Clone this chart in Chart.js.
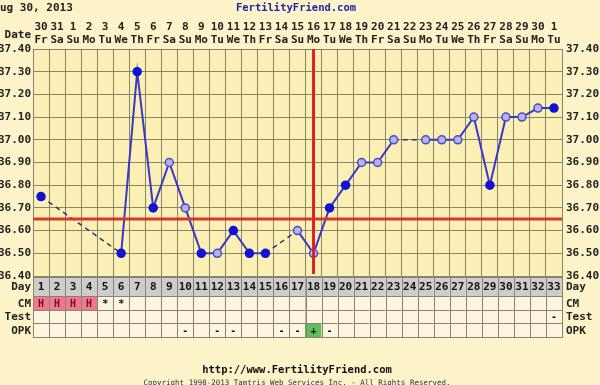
<!DOCTYPE html>
<html>
<head>
<meta charset="utf-8">
<script src="https://cdn.jsdelivr.net/npm/chart.js@4"></script>
<style>
  body { margin: 0; background: #fdf3c8; }
  #wrap { width: 600px; height: 385px; }
</style>
</head>
<body>
<div id="wrap"><canvas id="bbtChart" width="600" height="385"></canvas></div>
<script>
// cycle days and calendar labels
const cycleDays = ['1','2','3','4','5','6','7','8','9','10','11','12','13','14','15','16','17','18','19','20','21','22','23','24','25','26','27','28','29','30','31','32','33'];
const dates = ['30','31','1','2','3','4','5','6','7','8','9','10','11','12','13','14','15','16','17','18','19','20','21','22','23','24','25','26','27','28','29','30','1'];
const weekdays = ['Fr','Sa','Su','Mo','Tu','We','Th','Fr','Sa','Su','Mo','Tu','We','Th','Fr','Sa','Su','Mo','Tu','We','Th','Fr','Sa','Su','Mo','Tu','We','Th','Fr','Sa','Su','Mo','Tu'];

// temperatures (null = no reading)
const temps = [36.75, null, null, null, null, 36.50, 37.30, 36.70, 36.90, 36.70, 36.50, 36.50, 36.60, 36.50, 36.50, null, 36.60, 36.50, 36.70, 36.80, 36.90, 36.90, 37.00, null, 37.00, 37.00, 37.00, 37.10, 36.80, 37.10, 37.10, 37.14, 37.14];
// f = filled point, o = open point
const pointKind = ['f','','','','','f','f','f','o','o','f','o','f','f','f','','o','o','f','f','o','o','o','','o','o','o','o','f','o','o','o','f'];

const coverline = 36.65;
const ovulationDay = '18';

// table rows
const cmRow = ['H','H','H','H','*','*','','','','','','','','','','','','','','','','','','','','','','','','','','',''];
const testRow = ['','','','','','','','','','','','','','','','','','','','','','','','','','','','','','','','','-'];
const opkRow = ['','','','','','','','','','-','','-','-','','','-','-','+','-','','','','','','','','','','','','','',''];

const yTicksMin = 36.40;
const yTicksMax = 37.40;

const FONT = '"DejaVu Sans Mono", monospace';
const GRID = '#85856a';

const gapped = (c, v) => (c.p0.skip || c.p1.skip ? v : undefined);

const extras = {
    id: 'extras',
    beforeDraw(chart) {
        const ctx = chart.ctx;
        const a = chart.chartArea;
        ctx.save();
        ctx.fillStyle = '#fdf3c8';
        ctx.fillRect(0, 0, chart.width, chart.height);
        ctx.fillStyle = '#fbefb6';
        ctx.fillRect(a.left, a.top, a.right - a.left, a.bottom - a.top);
        ctx.restore();
    },
    afterDatasetsDraw(chart) {
        const ctx = chart.ctx;
        const a = chart.chartArea;
        const x = chart.scales.x, y = chart.scales.y;
        ctx.save();
        ctx.strokeStyle = '#d23a2a';
        ctx.lineWidth = 3;
        const cy = Math.round(y.getPixelForValue(coverline));
        ctx.beginPath();
        ctx.moveTo(a.left, cy);
        ctx.lineTo(a.right, cy);
        ctx.stroke();
        const ox = x.getPixelForValue(cycleDays.indexOf(ovulationDay));
        ctx.strokeStyle = '#e02020';
        ctx.beginPath();
        ctx.moveTo(ox, a.top);
        ctx.lineTo(ox, a.bottom - 2);
        ctx.stroke();
        ctx.restore();
    },
    afterDraw(chart) {
        const ctx = chart.ctx;
        const a = chart.chartArea;
        const x = chart.scales.x;
        const colW = (a.right - a.left) / cycleDays.length;
        const rows = [
            { name: 'Day', top: 277, h: 19, vals: cycleDays },
            { name: 'CM', top: 296, h: 14, vals: cmRow },
            { name: 'Test', top: 310, h: 13, vals: testRow },
            { name: 'OPK', top: 323, h: 14, vals: opkRow }
        ];
        ctx.save();
        ctx.font = 'bold 11px ' + FONT;
        ctx.textBaseline = 'middle';
        rows.forEach((r, ri) => {
            r.vals.forEach((v, i) => {
                const cx = x.getPixelForValue(i);
                const l = cx - colW / 2;
                let bg = '#fdf5e0';
                if (ri === 0) bg = '#cdcdcd';
                else if (r.name === 'CM' && v === 'H') bg = '#f07890';
                else if (r.name === 'OPK' && v === '+') bg = '#5cbf5c';
                ctx.fillStyle = bg;
                ctx.fillRect(l, r.top, colW, r.h);
                ctx.strokeStyle = GRID;
                ctx.lineWidth = 1;
                ctx.strokeRect(Math.round(l) + 0.5, r.top + 0.5, Math.round(colW), r.h);
                if (v) {
                    ctx.fillStyle = (r.name === 'CM' && v === 'H') ? '#7a0a20' : '#111';
                    ctx.textAlign = 'center';
                    ctx.font = (ri === 0 ? 'bold 11px ' : 'bold 10px ') + FONT;
                    ctx.fillText(v, cx, r.top + r.h / 2 + 1);
                }
            });
            ctx.fillStyle = '#222';
            ctx.font = 'bold 11px ' + FONT;
            ctx.textAlign = 'right';
            ctx.fillText(r.name, 31, r.top + r.h / 2 + 1);
            ctx.textAlign = 'left';
            ctx.fillText(r.name, 566, r.top + r.h / 2 + 1);
        });

        // header
        ctx.fillStyle = '#222';
        ctx.textAlign = 'right';
        ctx.fillText('Date', 31, 35);
        ctx.textAlign = 'left';
        ctx.fillText('ug 30, 2013', 0, 8);
        ctx.fillStyle = '#2424a8';
        ctx.textAlign = 'center';
        ctx.font = 'bold 10.5px ' + FONT;
        ctx.fillText('FertilityFriend.com', 296, 8);

        // footer
        ctx.fillStyle = '#111';
        ctx.font = 'bold 10.5px ' + FONT;
        ctx.fillText('http://www.FertilityFriend.com', 297, 370);
        ctx.font = '7.5px ' + FONT;
        ctx.fillStyle = '#333';
        ctx.fillText('Copyright 1998-2013 Tamtris Web Services Inc. - All Rights Reserved.', 297, 383);
        ctx.restore();
    }
};

const tickLabel = v => (Math.round(v * 100) % 10 === 0 ? v.toFixed(2) : '');

new Chart(document.getElementById('bbtChart').getContext('2d'), {
    type: 'line',
    data: {
        labels: dates.map((d, i) => [d, weekdays[i]]),
        datasets: [{
            label: 'Temperature',
            data: temps,
            spanGaps: true,
            borderColor: '#3838c4',
            borderWidth: 2,
            tension: 0,
            pointRadius: 4,
            pointBorderWidth: 1.5,
            pointBackgroundColor: pointKind.map(k => k === 'f' ? '#1212d6' : '#b4b4ea'),
            pointBorderColor: pointKind.map(k => k === 'f' ? '#1212d6' : '#4a4ac8'),
            segment: {
                borderDash: c => gapped(c, [5, 4]),
                borderColor: c => gapped(c, '#33336e'),
                borderWidth: c => gapped(c, 1.5)
            }
        }]
    },
    options: {
        responsive: false,
        animation: false,
        layout: { padding: { top: 0, left: 0, right: 0, bottom: 109 } },
        plugins: {
            legend: { display: false },
            tooltip: { enabled: false }
        },
        scales: {
            x: {
                position: 'top',
                offset: true,
                grid: { color: GRID, drawTicks: false, offset: true },
                border: { color: GRID },
                ticks: {
                    color: '#222',
                    font: { family: FONT, size: 11, weight: 'bold', lineHeight: 1.15 },
                    padding: 3,
                    maxRotation: 0,
                    autoSkip: false
                },
                afterFit: s => { s.height = 49; }
            },
            y: {
                position: 'left',
                min: yTicksMin,
                max: yTicksMax,
                grid: { color: GRID, drawTicks: false },
                border: { color: GRID },
                ticks: {
                    stepSize: 0.05,
                    color: '#222',
                    padding: 2,
                    font: { family: FONT, size: 11, weight: 'bold' },
                    callback: tickLabel
                },
                afterFit: s => { s.width = 33; }
            },
            y2: {
                position: 'right',
                min: yTicksMin,
                max: yTicksMax,
                grid: { display: false, drawTicks: false },
                border: { color: GRID },
                ticks: {
                    stepSize: 0.05,
                    color: '#222',
                    padding: 4,
                    font: { family: FONT, size: 11, weight: 'bold' },
                    callback: tickLabel
                },
                afterFit: s => { s.width = 38; }
            }
        }
    },
    plugins: [extras]
});
</script>
</body>
</html>
